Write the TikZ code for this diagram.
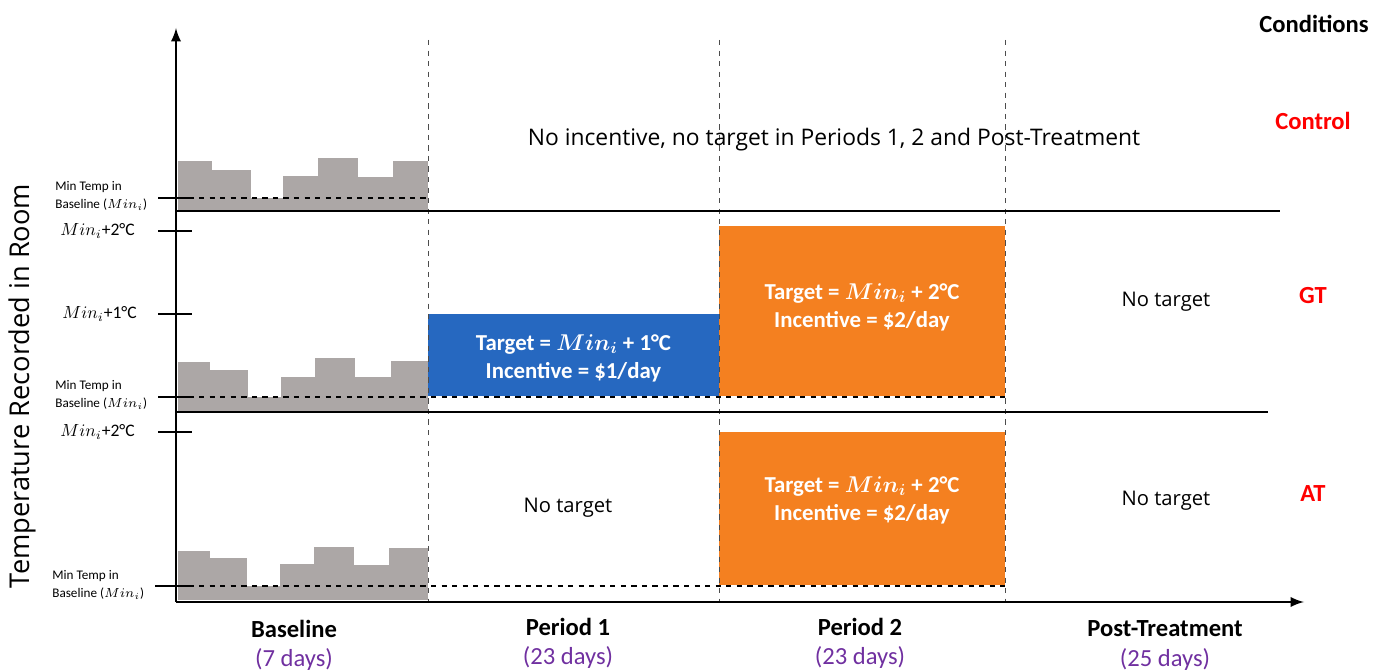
\RequirePackage{fix-cm}
\documentclass[tikz,border=0pt]{standalone}
\usepackage{fontspec}
\setmainfont{Carlito}
\newfontfamily\segoe{Open Sans}
\usetikzlibrary{arrows,positioning}
\definecolor{tgtblue}{RGB}{38,104,192}
\definecolor{tgtorange}{RGB}{244,128,32}
\definecolor{bargray}{RGB}{172,167,166}
\definecolor{daypurple}{RGB}{112,48,160}
\tikzset{
    tgtbox/.style={rectangle, draw=none, inner sep=0pt},
    tgttext/.style={text=white, font=\fontsize{13}{16}\selectfont\bfseries\boldmath, align=center},
    plainlabel/.style={font=\segoe\fontsize{11.5}{14}\selectfont},
    widelabel/.style={font=\segoe\fontsize{13}{16}\selectfont},
    condlabel/.style={text=red, font=\fontsize{14}{17}\selectfont\bfseries},
    periodlabel/.style={font=\fontsize{14}{17}\selectfont\bfseries},
    daylabel/.style={text=daypurple, font=\fontsize{14}{17}\selectfont},
    minlabel/.style={font=\fontsize{7.5}{10}\selectfont, align=left, anchor=west, inner sep=0pt},
    ticklabel/.style={font=\fontsize{10}{12}\selectfont, anchor=west, inner sep=0pt},
    ticklin/.style={line width=1.7pt},
    perline/.style={dashed, gray!60!black, line width=0.5pt},
    minline/.style={dashed, line width=0.6pt},
    rowline/.style={line width=0.8pt},
    myarrow/.style={->, >=latex, line width=1.6pt}
}

\begin{document}
\begin{tikzpicture}[x=0.02cm, y=-0.02cm]
\useasboundingbox (0,0) rectangle (1376,671);

% gray baseline bars
\foreach \xa/\xb/\ytop in {178/212/161, 212/251/170, 251/283/198, 283/318/176, 318/358/158, 358/393/177, 393/428/161}
    \fill[bargray] (\xa,\ytop) rectangle (\xb,211);
\foreach \xa/\xb/\ytop in {178/210/362, 210/248/370, 248/281/397, 281/315/377, 315/355/358, 355/391/377, 391/428/361}
    \fill[bargray] (\xa,\ytop) rectangle (\xb,412);
\foreach \xa/\xb/\ytop in {178/210/551, 210/247/558, 247/280/586, 280/314/564, 314/354/547, 354/389/565, 389/428/548}
    \fill[bargray] (\xa,\ytop) rectangle (\xb,600);

% target boxes
\node[tgtbox, fill=tgtblue, minimum width=5.82cm, minimum height=1.64cm] (gtone) at (573.5,355) {};
\node[tgtbox, fill=tgtorange, minimum width=5.72cm, minimum height=3.4cm] (gttwo) at (862,311) {};
\node[tgtbox, fill=tgtorange, minimum width=5.72cm, minimum height=3.06cm] (attwo) at (862,508.5) {};

\node[tgttext] (gtonetext) at ([yshift=-0.06cm]gtone.center) {Target = $Min_i$ + 1°C\\Incentive = \$1/day};
\node[tgttext] (gttwotext) at ([yshift=0.08cm]gttwo.center) {Target = $Min_i$ + 2°C\\Incentive = \$2/day};
\node[tgttext] (attwotext) at ([yshift=0.16cm]attwo.center) {Target = $Min_i$ + 2°C\\Incentive = \$2/day};

% period borders
\coordinate (pa) at (428,40);
\coordinate (pb) at (719,40);
\coordinate (pc) at (1005,40);
\draw[perline] (pa) -- (428,602);
\draw[perline] (pb) -- (719,602);
\draw[perline] (pc) -- (1005,602);

% row borders
\draw[rowline] (176,211) -- (1280,211);
\draw[rowline] (176,412) -- (1268,412);

% minimum lines
\draw[minline] (178,198) -- (428,198);
\draw[minline] (178,397) -- (1005,397);
\draw[minline] (178,586) -- (1005,586);

% axes
\coordinate (origin) at (176,602);
\coordinate (ytop) at (176,28);
\coordinate (xend) at (1304,602);
\draw[myarrow] (origin) -- (ytop);
\draw[myarrow] (origin) -- (xend);

% ticks
\draw[ticklin] (158,198) -- (192,198);
\draw[ticklin] (158,231) -- (192,231);
\draw[ticklin] (158,314) -- (192,314);
\draw[ticklin] (158,397) -- (192,397);
\draw[ticklin] (158,432) -- (192,432);
\draw[ticklin] (155,586) -- (189,586);

% axis texts
\node[minlabel] (minctl) at (55,196) {Min Temp in\\Baseline ($Min_i$)};
\node[minlabel] (mingt) at (55,395) {Min Temp in\\Baseline ($Min_i$)};
\node[minlabel] (minat) at (52,585) {Min Temp in\\Baseline ($Min_i$)};
\node[ticklabel] (gtplustwo) at (60,231) {$Min_i$+2°C};
\node[ticklabel] (gtplusone) at (62,314) {$Min_i$+1°C};
\node[ticklabel] (atplustwo) at (60,432) {$Min_i$+2°C};
\node[font=\segoe\fontsize{15.5}{18}\selectfont, rotate=90] (ylabel) at (22,386) {Temperature Recorded in Room};

% period labels
\node[periodlabel] (base) at (294,629) {Baseline};
\node[periodlabel] (perone) at (568,627) {Period 1};
\node[periodlabel] (pertwo) at (860,627) {Period 2};
\node[periodlabel] (post) at (1165,629) {Post-Treatment};
\node[daylabel] (basedays) at ([yshift=-0.6cm]base.center) {(7 days)};
\node[daylabel] (peronedays) at ([yshift=-0.6cm]perone.center) {(23 days)};
\node[daylabel] (pertwodays) at ([yshift=-0.6cm]pertwo.center) {(23 days)};
\node[daylabel] (postdays) at ([yshift=-0.6cm]post.center) {(25 days)};

% conditions
\node[periodlabel] (cond) at (1314,24) {Conditions};
\node[condlabel] (ctl) at (1313,121) {Control};
\node[condlabel] (gt) at (1313,296) {GT};
\node[condlabel] (at) at (1313,494) {AT};

% row texts
\node[widelabel] (notarget) at (834,140) {No incentive, no target in Periods 1, 2 and Post-Treatment};
\node[plainlabel] (gtpost) at (1166,302) {No target};
\node[plainlabel] (atone) at (568,508) {No target};
\node[plainlabel] (atpost) at (1166,501) {No target};

\end{tikzpicture}
\end{document}
